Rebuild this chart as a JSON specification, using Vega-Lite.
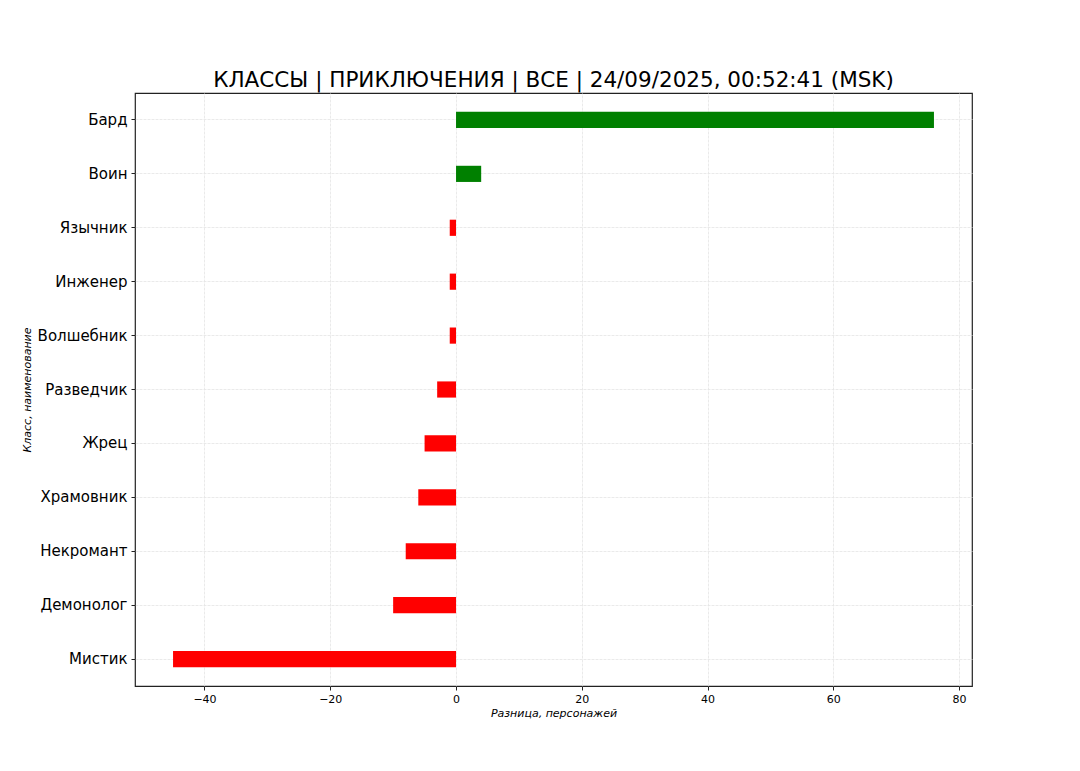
{
  "$schema": "https://vega.github.io/schema/vega-lite/v6.json",
  "autosize": {"type": "none"},
  "width": 837,
  "height": 593,
  "padding": {"left": 135, "top": 93, "right": 108, "bottom": 85},
  "background": "white",
  "title": {"text": "КЛАССЫ | ПРИКЛЮЧЕНИЯ | ВСЕ | 24/09/2025, 00:52:41 (MSK)", "font": "DejaVu Sans", "fontSize": 21.5, "fontWeight": "normal", "color": "black", "offset": 2, "anchor": "middle"},
  "config": {
    "view": {"stroke": "#222222", "strokeWidth": 1.2},
    "font": "DejaVu Sans"
  },
  "data": {"values": [
    {"cls": "Бард", "diff": 76},
    {"cls": "Воин", "diff": 4},
    {"cls": "Язычник", "diff": -1},
    {"cls": "Инженер", "diff": -1},
    {"cls": "Волшебник", "diff": -1},
    {"cls": "Разведчик", "diff": -3},
    {"cls": "Жрец", "diff": -5},
    {"cls": "Храмовник", "diff": -6},
    {"cls": "Некромант", "diff": -8},
    {"cls": "Демонолог", "diff": -10},
    {"cls": "Мистик", "diff": -45}
  ]},
  "mark": {"type": "bar", "cornerRadius": 0},
  "encoding": {
    "y": {"field": "cls", "type": "nominal", "sort": null,
      "scale": {"paddingInner": 0.7, "paddingOuter": 0.35},
      "axis": {"title": "Класс, наименование", "titleFont": "DejaVu Sans", "titleFontStyle": "italic", "titleFontWeight": "normal", "titleFontSize": 11, "titleColor": "black", "titlePadding": 5,
        "labelFont": "DejaVu Sans", "labelFontSize": 15, "labelColor": "black", "labelPadding": 4,
        "tickSize": 4, "tickColor": "#222222", "domain": false,
        "grid": true, "gridColor": "#e4e4e4", "gridWidth": 0.8, "gridDash": [3, 1]}},
    "x": {"field": "diff", "type": "quantitative",
      "scale": {"domain": [-51.05, 82.05], "nice": false, "zero": false},
      "axis": {"title": "Разница, персонажей", "titleFont": "DejaVu Sans", "titleFontStyle": "italic", "titleFontWeight": "normal", "titleFontSize": 11, "titleColor": "black", "titlePadding": 3, "titleAnchor": "middle",
        "values": [-40, -20, 0, 20, 40, 60, 80], "format": "d",
        "labelFont": "DejaVu Sans", "labelFontSize": 11, "labelColor": "black", "labelPadding": 3,
        "tickSize": 4, "tickColor": "#222222", "domain": false,
        "grid": true, "gridColor": "#e4e4e4", "gridWidth": 0.8, "gridDash": [3, 1]}},
    "color": {
      "condition": {"test": "datum.diff >= 0", "value": "#008000"},
      "value": "#ff0000"
    }
  }
}
